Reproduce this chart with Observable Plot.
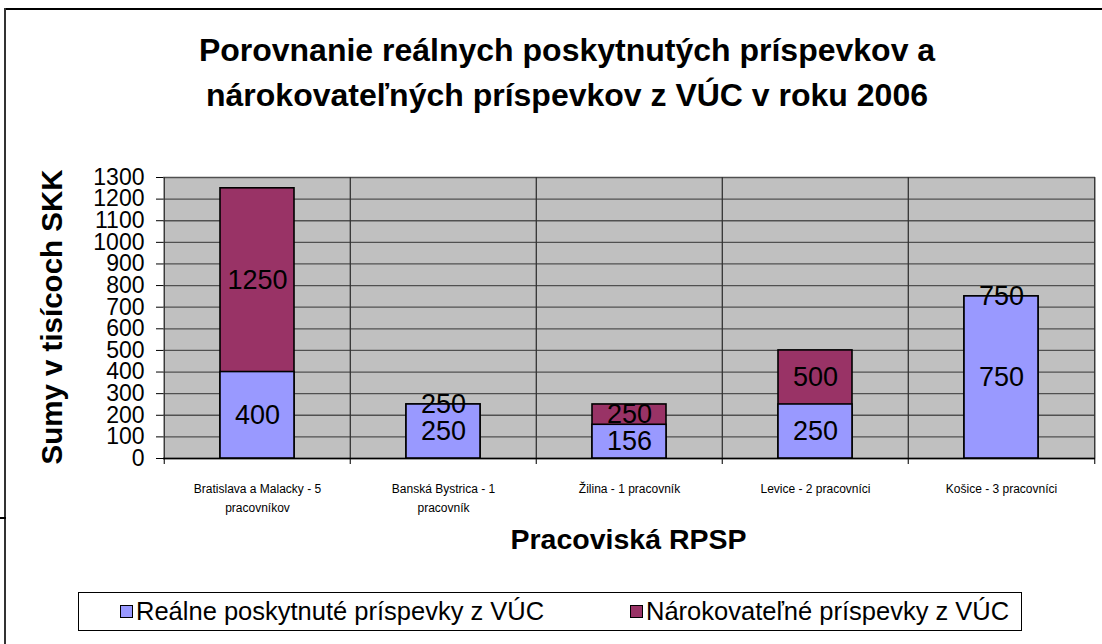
<!DOCTYPE html>
<html>
<head>
<meta charset="utf-8">
<script src="https://cdn.jsdelivr.net/npm/d3@7"></script>
<script src="https://cdn.jsdelivr.net/npm/@observablehq/plot@0.6"></script>
<style>
  html, body { margin: 0; padding: 0; background: #fff; }
  body { width: 1102px; height: 644px; position: relative; overflow: hidden; font-family: "Liberation Sans", Arial, sans-serif; }
  .abs { position: absolute; }
  #title { left: 0; width: 1134px; top: 28px; text-align: center; font-weight: bold; font-size: 32px; line-height: 45px; color: #000; }
  #chart { left: 0; top: 130px; }
  #legend { left: 78px; top: 592px; width: 944px; height: 39px; border: 1px solid #000; background: #fff; box-sizing: border-box; }
  .item { position: absolute; top: 0; height: 37px; display: flex; align-items: center; font-size: 25.5px; color: #000; }
  .sw { width: 11px; height: 11px; border: 1.5px solid #000; margin-right: 3px; }
</style>
</head>
<body>
<div class="abs" style="left:4px;top:8px;width:1098px;height:2px;background:#000"></div>
<div class="abs" style="left:4px;top:8px;width:2px;height:636px;background:#333"></div>
<div class="abs" style="left:0px;top:517px;width:6px;height:2px;background:#000"></div>
<div id="title" class="abs"></div>
<div id="chart" class="abs"></div>
<div id="legend" class="abs"></div>
<script>
const titleLines = ["Porovnanie reálnych poskytnutých príspevkov a", "nárokovateľných príspevkov z VÚC v roku 2006"];
const categories = ["Bratislava a Malacky - 5 pracovníkov", "Banská Bystrica - 1 pracovník", "Žilina - 1 pracovník", "Levice - 2 pracovníci", "Košice - 3 pracovníci"];
const xTickLabels = ["Bratislava a Malacky - 5\npracovníkov", "Banská Bystrica - 1\npracovník", "Žilina - 1 pracovník", "Levice - 2 pracovníci", "Košice - 3 pracovníci"];
const realValues = [400, 250, 156, 250, 750];
const claimValues = [1250, 250, 250, 500, 750];
const yTicks = [0, 100, 200, 300, 400, 500, 600, 700, 800, 900, 1000, 1100, 1200, 1300];
const seriesNames = ["Reálne poskytnuté príspevky z VÚC", "Nárokovateľné príspevky z VÚC"];
const seriesColors = ["#9999ff", "#993366"];
const yTitle = "Sumy v tisícoch SKK";
const xTitle = "Pracoviská RPSP";

document.getElementById("title").innerHTML = titleLines.join("<br>");

const data = categories.map((c, i) => ({cat: c, label: xTickLabels[i], real: realValues[i], claim: claimValues[i]}));

const W = 1102, H = 450, mL = 163, mR = 7, mT = 47, mB = 122;
const step = (W - mL - mR) / categories.length;

const chart = Plot.plot({
  width: W, height: H,
  marginLeft: mL, marginRight: mR, marginTop: mT, marginBottom: mB,
  style: {fontFamily: "Liberation Sans, Arial, sans-serif", background: "transparent", overflow: "visible", color: "#000"},
  x: {domain: categories, paddingInner: 0.6, paddingOuter: 0.3, axis: null},
  y: {domain: [0, 1300]},
  marks: [
    Plot.frame({fill: "#c0c0c0", stroke: null}),
    Plot.ruleY(yTicks, {stroke: "#505050", strokeWidth: 1.3}),
    Plot.ruleX(categories, {x: d => d, dx: -step / 2, stroke: "#333", strokeWidth: 1.3, insetBottom: -6}),
    Plot.ruleX([categories[categories.length - 1]], {x: d => d, dx: step / 2, stroke: "#333", strokeWidth: 1.3, insetBottom: -6}),
    Plot.ruleY([0], {stroke: "#000", strokeWidth: 1.3}),
    Plot.barY(data, {x: "cat", y: "claim", fill: seriesColors[1], stroke: "#000", strokeWidth: 1.6}),
    Plot.barY(data, {x: "cat", y: "real", fill: seriesColors[0], stroke: "#000", strokeWidth: 1.6}),
    Plot.text(data, {x: "cat", y: d => d.real / 2, text: d => String(d.real), fontSize: 27, fill: "#000"}),
    Plot.text(data, {x: "cat", y: d => (d.real + d.claim) / 2, text: d => String(d.claim), fontSize: 27, fill: "#000"}),
    Plot.axisY(yTicks, {tickSize: 7, tickPadding: 12, fontSize: 23, stroke: "#000", label: null, tickFormat: d => String(d)}),
    Plot.text(data, {x: "cat", text: "label", frameAnchor: "bottom", dy: 20, lineAnchor: "top", lineHeight: 1.65, fontSize: 12, fill: "#000"}),
    Plot.text([xTitle], {frameAnchor: "bottom", dy: 90, fontSize: 28.5, fontWeight: "bold", fill: "#000", text: d => d, dx: 628 - (mL + (W - mL - mR) / 2)}),
    Plot.text([yTitle], {frameAnchor: "left", textAnchor: "middle", dx: 52 - mL, dy: -1, rotate: -90, fontSize: 29.5, fontWeight: "bold", fill: "#000", text: d => d})
  ]
});
document.getElementById("chart").appendChild(chart);

const legend = document.getElementById("legend");
const legendX = [41, 551];
seriesNames.forEach((name, i) => {
  const it = document.createElement("div");
  it.className = "item";
  it.style.left = legendX[i] + "px";
  it.innerHTML = `<div class="sw" style="background:${seriesColors[i]}"></div><span>${name}</span>`;
  legend.appendChild(it);
});
</script>
</body>
</html>
